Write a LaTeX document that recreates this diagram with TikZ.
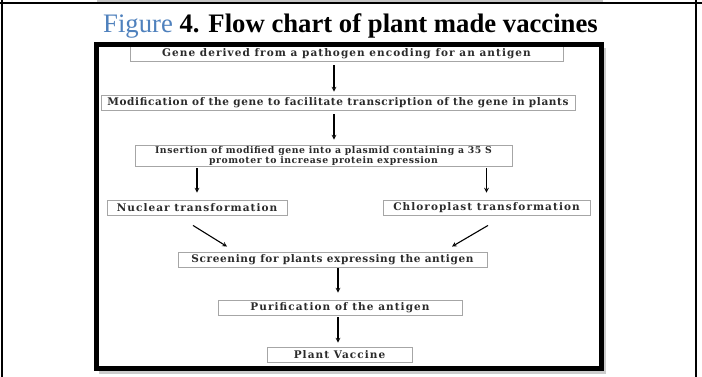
\documentclass[tikz,border=0pt]{standalone}
\usepackage{fontspec}
\setmainfont{Liberation Serif}
\newfontfamily\boxfont[LetterSpace=10]{DejaVu Serif}
\newfontfamily\tightfont[LetterSpace=6]{DejaVu Serif}
\usepackage{tikz}
\usetikzlibrary{positioning,arrows}
\definecolor{figblue}{HTML}{4F81BD}
\definecolor{boxline}{HTML}{A6A6A6}
\definecolor{boxtext}{HTML}{2B2B2B}
\tikzset{
stage/.style={draw=boxline, line width=0.9pt, inner sep=0pt, minimum height=15pt, font=\boxfont\bfseries\fontsize{10.5}{10}\selectfont, text=boxtext, align=center},
tight/.style={font=\tightfont\bfseries\fontsize{#1}{10}\selectfont},
arr/.style={-stealth, line width=1.1pt}
}

\begin{document}
\begin{tikzpicture}[x=1pt,y=1pt]
\useasboundingbox (0,0) rectangle (702,377);
\fill[white] (0,0) rectangle (702,377);

\draw[line width=2pt] (0,374) -- (702,374);
\fill[gray!45] (97,374.5) rectangle (603,377);
\draw[line width=2pt] (1.5,0) -- (1.5,377);
\draw[line width=2pt] (696,0) -- (696,377);

\node[anchor=base] (title) at (350.5,344) {\fontsize{26.7}{30}\selectfont\textcolor{figblue}{Figure} \textbf{4. Flow chart of plant made vaccines}};

\fill[gray!40] (99,3) rectangle (606,329);
\fill[white] (96.5,8) rectangle (601,332.5);

\node[stage, minimum width=433pt] (gene) at (346.5,323.5) {Gene derived from a pathogen encoding for an antigen};
\node[stage, tight=10.5, minimum width=474pt] (mod) at (338,274.5) {Modification of the gene to facilitate transcription of the gene in plants};
\node[stage, tight=9.3, minimum width=377pt, minimum height=21pt] (ins) at (323.5,221.5) {Insertion of modified gene into a plasmid containing a 35 S\\promoter to increase protein expression};
\node[stage, minimum width=180pt] (nuc) at (197,169.5) {Nuclear transformation};
\node[stage, minimum width=207pt] (chl) at (486.5,169.5) {Chloroplast transformation};
\node[stage, tight=10.5, minimum width=309pt] (scr) at (332.5,117.5) {Screening for plants expressing the antigen};
\node[stage, minimum width=244pt] (pur) at (340,69.5) {Purification of the antigen};
\node[stage, minimum width=145pt] (vac) at (339.5,22.5) {Plant Vaccine};

\coordinate (upper) at (334,0);
\coordinate (lower) at (338,0);

\draw[arr, shorten <=4pt, shorten >=3pt] (gene.south -| upper) -- (mod.north -| upper);
\draw[arr, shorten <=4pt, shorten >=5pt] (mod.south -| upper) -- (ins.north -| upper);
\draw[arr, shorten <=2pt, shorten >=7pt] (ins.south -| nuc.north) -- (nuc.north);
\draw[arr, shorten <=2pt, shorten >=7pt] (ins.south -| chl.north) -- (chl.north);
\draw[arr] ([xshift=-4pt,yshift=-10pt]nuc.south) -- ([xshift=-105.5pt,yshift=5pt]scr.north);
\draw[arr] ([xshift=1.5pt,yshift=-10pt]chl.south) -- ([xshift=119.5pt,yshift=5pt]scr.north);
\draw[arr, shorten <=1pt, shorten >=7pt] (scr.south -| lower) -- (pur.north -| lower);
\draw[arr, shorten <=2pt, shorten >=4pt] (pur.south -| lower) -- (vac.north -| lower);

\draw[line width=5pt] (96.5,8) rectangle (601,332.5);
\end{tikzpicture}
\end{document}
